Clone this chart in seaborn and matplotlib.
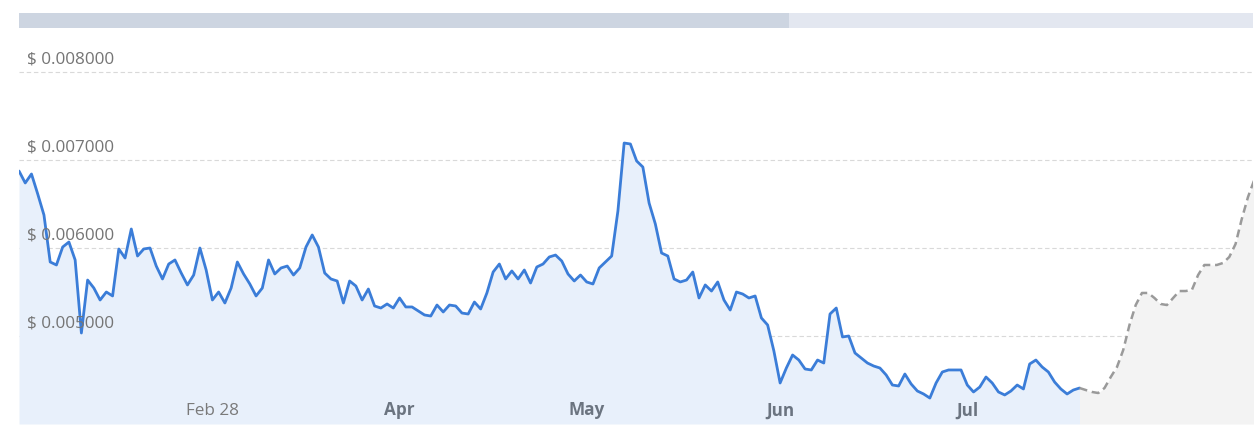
import numpy as np
import pandas as pd
import matplotlib
matplotlib.use("Agg")
import matplotlib.pyplot as plt
import seaborn as sns

# ---------------- data ----------------
# daily closing price (USD), day 0 .. day 170
price_actual = [
    0.006875, 0.006739, 0.006841, 0.006614, 0.006375, 0.005841, 0.005807, 0.006011, 0.006068, 0.005864,
    0.005034, 0.005636, 0.005545, 0.005409, 0.005500, 0.005455, 0.005989, 0.005886, 0.006216, 0.005909,
    0.005989, 0.006000, 0.005795, 0.005648, 0.005818, 0.005864, 0.005716, 0.005580, 0.005693, 0.006000,
    0.005750, 0.005409, 0.005500, 0.005375, 0.005545, 0.005841, 0.005705, 0.005591, 0.005455, 0.005545,
    0.005864, 0.005705, 0.005773, 0.005795, 0.005693, 0.005773, 0.006011, 0.006148, 0.006011, 0.005716,
    0.005648, 0.005625, 0.005375, 0.005625, 0.005568, 0.005409, 0.005534, 0.005341, 0.005318, 0.005364,
    0.005318, 0.005432, 0.005330, 0.005330, 0.005284, 0.005239, 0.005227, 0.005352, 0.005273, 0.005352,
    0.005341, 0.005261, 0.005250, 0.005386, 0.005307, 0.005489, 0.005727, 0.005818, 0.005648, 0.005739,
    0.005648, 0.005750, 0.005602, 0.005784, 0.005818, 0.005898, 0.005920, 0.005852, 0.005705, 0.005625,
    0.005693, 0.005614, 0.005591, 0.005773, 0.005841, 0.005909, 0.006420, 0.007193, 0.007182, 0.006989,
    0.006920, 0.006511, 0.006273, 0.005943, 0.005909, 0.005648, 0.005614, 0.005636, 0.005727, 0.005432,
    0.005580, 0.005511, 0.005614, 0.005409, 0.005295, 0.005500, 0.005477, 0.005432, 0.005455, 0.005205,
    0.005125, 0.004830, 0.004466, 0.004636, 0.004784, 0.004727, 0.004625, 0.004614, 0.004727, 0.004693,
    0.005250, 0.005318, 0.004989, 0.005000, 0.004807, 0.004750, 0.004693, 0.004659, 0.004636, 0.004557,
    0.004443, 0.004432, 0.004568, 0.004455, 0.004375, 0.004341, 0.004295, 0.004466, 0.004591, 0.004614,
    0.004614, 0.004614, 0.004443, 0.004364, 0.004420, 0.004534, 0.004466, 0.004364, 0.004330, 0.004375,
    0.004443, 0.004398, 0.004682, 0.004727, 0.004648, 0.004591, 0.004477, 0.004398, 0.004341, 0.004386,
    0.004409,
]
# forecast price, day 170 .. day 198
price_forecast = [
    0.004409, 0.004386, 0.004364, 0.004352, 0.004409, 0.004534, 0.004648, 0.004841, 0.005125, 0.005352,
    0.005489, 0.005489, 0.005432, 0.005364, 0.005352, 0.005432, 0.005511, 0.005511, 0.005523, 0.005693,
    0.005807, 0.005807, 0.005807, 0.005830, 0.005898, 0.006045, 0.006330, 0.006580, 0.006773,
]
y_ticks = [0.005, 0.006, 0.007, 0.008]
y_tick_labels = ["$ 0.005000", "$ 0.006000", "$ 0.007000", "$ 0.008000"]
x_tick_days = [31, 61, 91, 122, 152]
x_tick_labels = ["Feb 28", "Apr", "May", "Jun", "Jul"]
x_tick_bold = [False, True, True, True, True]

day_actual = np.arange(len(price_actual))
day_forecast = np.arange(len(price_forecast)) + len(price_actual) - 1
df_a = pd.DataFrame({"day": day_actual, "price": price_actual})
df_f = pd.DataFrame({"day": day_forecast, "price": price_forecast})

# ---------------- style ----------------
sns.set_style("white")
plt.rcParams["font.family"] = ["Open Sans", "DejaVu Sans"]

W, H = 1255, 436
fig = plt.figure(figsize=(W / 100, H / 100), dpi=100)
ax = fig.add_axes([19 / W, 12 / H, 1234 / W, 396 / H])

ax.fill_between(df_a["day"], df_a["price"], 0.004, color="#e8f0fb", lw=0, zorder=1)
ax.fill_between(df_f["day"], df_f["price"], 0.004, color="#f3f3f3", lw=0, zorder=1)

sns.lineplot(data=df_a, x="day", y="price", ax=ax, color="#3b7dd8", linewidth=2.0,
             zorder=3, solid_joinstyle="round", solid_capstyle="round")
sns.lineplot(data=df_f, x="day", y="price", ax=ax, color="#9a9a9a", linewidth=1.8,
             zorder=3, dash_joinstyle="round")
ax.lines[-1].set_dashes([3.2, 1.9])

ax.set_xlim(0, 197.8)
ax.set_ylim(0.004, 0.0085)
ax.set_yticks(y_ticks)
ax.set_xticks([])
ax.tick_params(axis="y", left=False, labelleft=False)
ax.yaxis.grid(True, color="#d9d9d9", linewidth=0.8, linestyle=(0, (4, 2.5)))
ax.set_axisbelow(True)
for s in ax.spines.values():
    s.set_visible(False)
ax.set_xlabel("")
ax.set_ylabel("")

for v, lab in zip(y_ticks, y_tick_labels):
    ax.annotate(lab, xy=(0, v), xycoords=("axes fraction", "data"),
                xytext=(5.8, 6.2), textcoords="offset points",
                ha="left", va="baseline", fontsize=12.3, color="#757575", zorder=5)

for d, lab, b in zip(x_tick_days, x_tick_labels, x_tick_bold):
    ax.annotate(lab, xy=(d, 0), xycoords=("data", "axes fraction"),
                xytext=(0, 6.3), textcoords="offset points",
                ha="center", va="baseline", fontsize=12.3,
                fontweight="bold" if b else "normal",
                color="#6b7480" if b else "#7a7a7a", zorder=5)

# navigator / scrollbar on top
sax = fig.add_axes([19 / W, (H - 27.7) / H, 1234 / W, 14.7 / H])
sax.barh([0], [1.0], left=[0], height=1.0, color="#e3e7f0", linewidth=0)
sax.barh([0], [(789 - 19) / 1234], left=[0], height=1.0, color="#cdd5e1", linewidth=0)
sax.set_xlim(0, 1)
sax.set_ylim(-0.5, 0.5)
sax.axis("off")

fig.savefig("out.png", dpi=100)
